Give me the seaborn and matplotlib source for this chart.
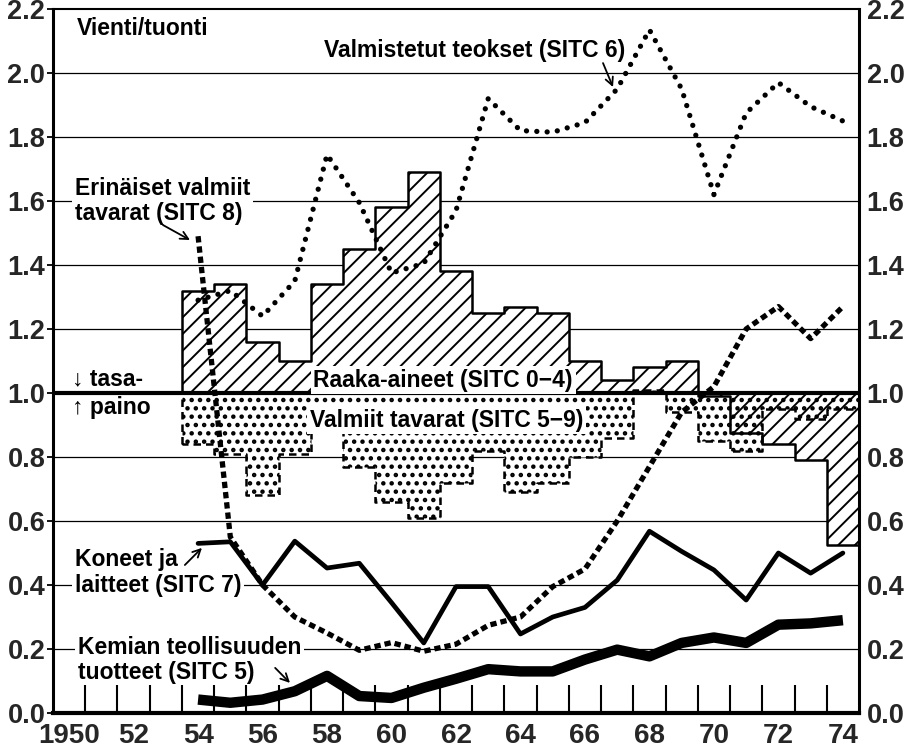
import numpy as np
import pandas as pd
import matplotlib
matplotlib.use('Agg')
import matplotlib.pyplot as plt
import seaborn as sns

# vuodet ja suhdeluvut (vienti/tuonti), luettu kuvasta
years = list(range(1954, 1975))

raaka_aineet = [1.32, 1.34, 1.16, 1.10, 1.34, 1.45, 1.58, 1.69, 1.38, 1.25, 1.27,
                1.25, 1.10, 1.04, 1.08, 1.10, 0.99, 0.875, 0.84, 0.79, 0.525]
valmiit_tavarat = [0.84, 0.81, 0.68, 0.81, 0.88, 0.77, 0.66, 0.61, 0.72, 0.82, 0.69,
                   0.72, 0.80, 0.86, 1.01, 0.94, 0.85, 0.82, 0.95, 0.92, 0.95]
sitc6 = [1.29, 1.32, 1.24, 1.35, 1.745, 1.595, 1.375, 1.405, 1.57, 1.92, 1.82,
         1.815, 1.845, 1.95, 2.135, 1.95, 1.62, 1.875, 1.97, 1.895, 1.85]
sitc8 = [1.49, 0.55, 0.40, 0.30, 0.25, 0.196, 0.22, 0.193, 0.215, 0.274, 0.30,
         0.395, 0.45, 0.60, 0.77, 0.94, 1.02, 1.20, 1.27, 1.17, 1.27]
sitc7 = [0.53, 0.535, 0.40, 0.537, 0.453, 0.468, 0.345, 0.219, 0.395, 0.395, 0.247,
         0.30, 0.33, 0.415, 0.568, 0.505, 0.447, 0.353, 0.50, 0.437, 0.50]
sitc5 = [0.042, 0.032, 0.042, 0.068, 0.116, 0.053, 0.047, 0.079, 0.107, 0.137, 0.13,
         0.13, 0.167, 0.198, 0.177, 0.219, 0.236, 0.219, 0.276, 0.28, 0.29]

label_years = list(range(1950, 1975, 2))
year_labels = ['1950', '52', '54', '56', '58', '60', '62', '64', '66', '68', '70', '72', '74']
y_ticks = [0.0, 0.2, 0.4, 0.6, 0.8, 1.0, 1.2, 1.4, 1.6, 1.8, 2.0, 2.2]

sns.set_style('ticks')
plt.rcParams['font.family'] = ['Liberation Sans', 'DejaVu Sans']
plt.rcParams['font.weight'] = 'bold'

df = pd.DataFrame({'vuosi': years, 'sitc6': sitc6, 'sitc8': sitc8,
                   'sitc7': sitc7, 'sitc5': sitc5})

fig = plt.figure(figsize=(9.14, 7.49), dpi=100)
ax = fig.add_axes([53 / 914, 36 / 749, 806 / 914, 704 / 749])

# vaakaviivat pylväiden alle
for yv in y_ticks[1:-1]:
    ax.axhline(yv, color='black', lw=0.9, zorder=0.5)

# porraspylväät tasapainoviivasta 1.0
edges = np.append(np.array(years) - 0.5, years[-1] + 0.5)
raaka_step = np.append(raaka_aineet, raaka_aineet[-1])
valm_step = np.append(valmiit_tavarat, valmiit_tavarat[-1])

ax.fill_between(edges, 1.0, raaka_step, step='post', facecolor='white',
                edgecolor='none', zorder=1)

plt.rcParams['hatch.linewidth'] = 2.0
dots = ax.fill_between(edges, 1.0, valm_step, step='post', facecolor='white',
                       edgecolor='black', hatch='..', linestyle=(0, (3, 2)),
                       linewidth=1.8, zorder=1.5)
if hasattr(dots, 'set_hatch_linewidth'):
    dots.set_hatch_linewidth(2.0)

plt.rcParams['hatch.linewidth'] = 1.4
stripes = ax.fill_between(edges, 1.0, raaka_step, step='post', facecolor='none',
                          edgecolor='black', hatch='//', linewidth=1.8, zorder=2)
if hasattr(stripes, 'set_hatch_linewidth'):
    stripes.set_hatch_linewidth(1.4)

ax.axhline(1.0, color='black', lw=3, zorder=3)

# viivat
sns.lineplot(data=df, x='vuosi', y='sitc6', ax=ax, color='black', lw=3.8,
             linestyle=(0, (0.01, 1.95)), dash_capstyle='round', zorder=4)
sns.lineplot(data=df, x='vuosi', y='sitc8', ax=ax, color='black', lw=3.8,
             linestyle=(0, (1.2, 0.75)), zorder=4)
sns.lineplot(data=df, x='vuosi', y='sitc7', ax=ax, color='black', lw=3.4,
             zorder=4)
sns.lineplot(data=df, x='vuosi', y='sitc5', ax=ax, color='black', lw=7.5,
             solid_capstyle='butt', zorder=4)

ax.set_xlabel('')
ax.set_ylabel('')
ax.set_xlim(1949.5, 1974.5)
ax.set_ylim(0, 2.2)

# vuosien rajaviivat alareunassa
year_bounds = np.arange(label_years[0] + 0.5, label_years[-1], 1.0)
ax.vlines(year_bounds, 0, 0.086, colors='black', lw=1.5, zorder=10,
          clip_on=False)

ax.set_xticks(label_years)
ax.set_xticklabels(year_labels)
ax.tick_params(axis='x', which='both', bottom=True, top=False, length=0, pad=7,
               labelsize=20)

ax.set_yticks(y_ticks)
ax.set_yticklabels([f'{v:.1f}' for v in y_ticks])
ax.tick_params(axis='y', which='major', labelsize=19.5, left=True, right=False,
               labelleft=True, labelright=True, length=4, width=1.3,
               pad=1.5, color='black', direction='out')
ax.tick_params(axis='y', which='minor', left=False, right=False)
ax.grid(False)

for side, w in [('left', 2.2), ('right', 2.2), ('top', 1.5), ('bottom', 3)]:
    ax.spines[side].set_visible(True)
    ax.spines[side].set_color('black')
    ax.spines[side].set_linewidth(w)

# tekstit
txt = dict(fontsize=16.5, fontweight='bold', color='black', zorder=3.5)
box = dict(boxstyle='square,pad=0.12', fc='white', ec='none')

ax.text(1950.24, 2.14, 'Vienti/tuonti', ha='left', va='center', **txt)
ax.text(1967.24, 2.07, 'Valmistetut teokset (SITC 6)', ha='right', va='center', **txt)
ax.text(1950.18, 1.60, 'Erinäiset valmiit\ntavarat (SITC 8)', ha='left',
        va='center', bbox=box, linespacing=1.1, **txt)
ax.text(1950.09, 1.045, '↓ tasa-', ha='left', va='center', **txt)
ax.text(1950.09, 0.955, '↑ paino', ha='left', va='center', **txt)
ax.text(1961.6, 1.04, 'Raaka-aineet (SITC 0−4)', ha='center', va='center',
        bbox=box, **txt)
ax.text(1961.7, 0.915, 'Valmiit tavarat (SITC 5−9)', ha='center', va='center',
        bbox=box, **txt)
ax.text(1950.18, 0.44, 'Koneet ja\nlaitteet (SITC 7)', ha='left', va='center',
        bbox=box, linespacing=1.15, **txt)
ax.text(1950.28, 0.165, 'Kemian teollisuuden\ntuotteet (SITC 5)', ha='left',
        va='center', bbox=box, linespacing=1.1, **txt)

arrow = dict(arrowstyle='->', color='black', lw=1.3, shrinkA=0, shrinkB=0,
             mutation_scale=14)
ax.annotate('', xy=(1966.87, 1.956), xytext=(1966.56, 2.031), arrowprops=arrow, zorder=5)
ax.annotate('', xy=(1953.75, 1.478), xytext=(1952.91, 1.525), arrowprops=arrow, zorder=5)
ax.annotate('', xy=(1954.12, 0.516), xytext=(1953.59, 0.4625), arrowprops=arrow, zorder=5)
ax.annotate('', xy=(1956.85, 0.094), xytext=(1956.39, 0.141), arrowprops=arrow, zorder=5)

fig.savefig('out.png', dpi=100)
